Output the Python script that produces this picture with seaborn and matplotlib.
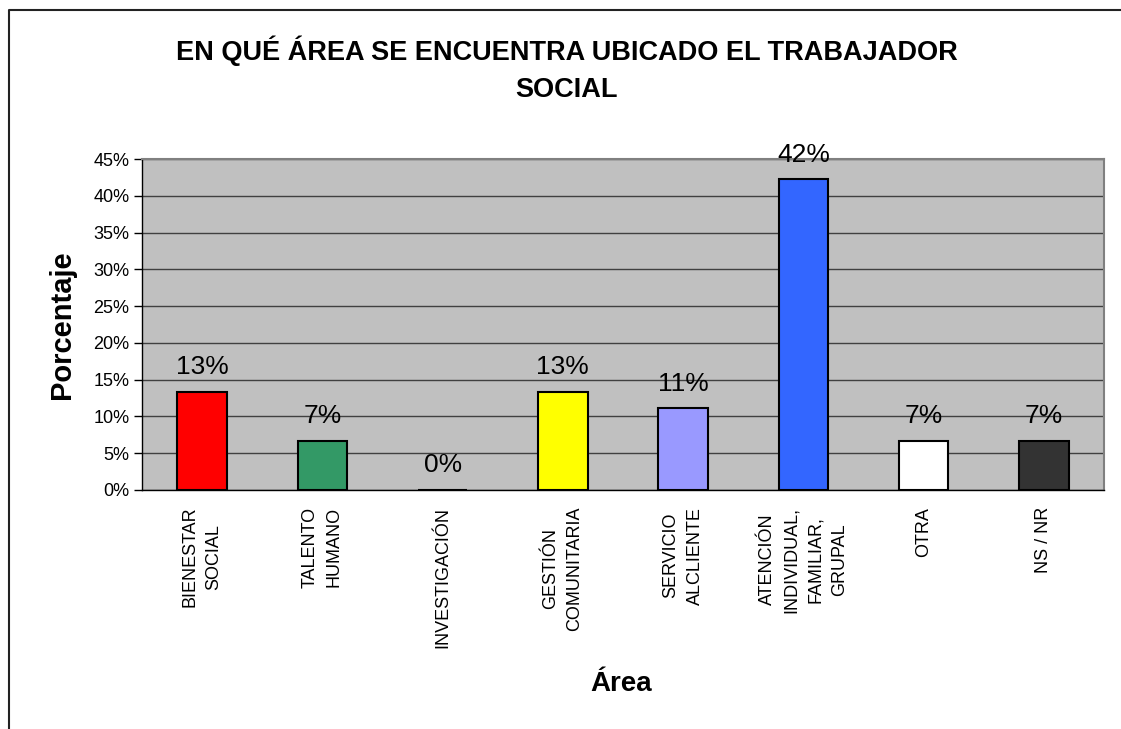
import matplotlib
matplotlib.use("Agg")
import matplotlib.pyplot as plt
import seaborn as sns
import pandas as pd
from matplotlib.lines import Line2D
from matplotlib.ticker import FixedLocator, MultipleLocator, FuncFormatter

# Data (n = 45 respuestas)
categorias = ["BIENESTAR\nSOCIAL", "TALENTO\nHUMANO", "INVESTIGACIÓN",
              "GESTIÓN\nCOMUNITARIA", "SERVICIO\nALCLIENTE",
              "ATENCIÓN\nINDIVIDUAL,\nFAMILIAR,\nGRUPAL", "OTRA", "NS / NR"]
porcentajes = [13.33, 6.67, 0.0, 13.33, 11.11, 42.22, 6.67, 6.67]
etiquetas = ["13%", "7%", "0%", "13%", "11%", "42%", "7%", "7%"]
colores = ["#FF0000", "#339966", "#C0C0C0", "#FFFF00", "#9999FF",
           "#3366FF", "#FFFFFF", "#333333"]

df = pd.DataFrame({"Area": categorias, "Porcentaje": porcentajes})

sns.set_style("white")
plt.rcParams["font.family"] = ["Liberation Sans", "DejaVu Sans"]
plt.rcParams["text.color"] = "black"
plt.rcParams["xtick.color"] = "black"
plt.rcParams["ytick.color"] = "black"

W, H = 1121, 729
fig = plt.figure(figsize=(W / 100, H / 100), dpi=100)
ax = fig.add_axes([142 / W, 1 - 490 / H, (1104 - 142) / W, (490 - 159) / H])
ax.set_facecolor("#C0C0C0")

sns.barplot(data=df, x="Area", y="Porcentaje", hue="Area", palette=colores,
            legend=False, width=0.41, edgecolor="black", linewidth=1.5,
            saturation=1, ax=ax)

# value labels
for i, (v, t) in enumerate(zip(porcentajes, etiquetas)):
    ax.annotate(t, (i, v), xytext=(0, 9), textcoords="offset points",
                ha="center", va="bottom", fontsize=19, color="black")

ax.set_xlim(-0.5, len(categorias) - 0.5)
ax.set_ylim(0, 45)
ax.yaxis.set_major_locator(MultipleLocator(5))
ax.yaxis.set_major_formatter(FuncFormatter(lambda y, _: f"{y:.0f}%"))
ax.yaxis.grid(True, color="#404040", lw=1)
ax.set_axisbelow(True)

ax.xaxis.set_minor_locator(FixedLocator([i - 0.5 for i in range(len(categorias) + 1)]))
ax.tick_params(axis="x", which="major", length=0, pad=12, labelsize=13)
ax.tick_params(axis="x", which="minor", length=6, width=1, direction="out", color="black")
ax.tick_params(axis="y", length=6, width=1, direction="out", color="black",
               labelsize=13, pad=3, left=True)
for lbl in ax.get_xticklabels():
    lbl.set_rotation(90)
    lbl.set_multialignment("center")
    lbl.set_linespacing(1.55)
    lbl.set_va("top")

ax.set_xlabel("")
ax.set_ylabel("")
for s in ["left", "bottom"]:
    ax.spines[s].set_color("black")
    ax.spines[s].set_linewidth(1)
for s in ["top", "right"]:
    ax.spines[s].set_color("#808080")
    ax.spines[s].set_linewidth(1.5)

fig.text(567 / W, 1 - 69 / H, "EN QUÉ ÁREA SE ENCUENTRA UBICADO EL TRABAJADOR\nSOCIAL",
         ha="center", va="center", fontsize=19.5, fontweight="bold", linespacing=1.55)
fig.text(62 / W, 1 - 325 / H, "Porcentaje", rotation=90, ha="center", va="center",
         fontsize=21, fontweight="bold")
fig.text(621 / W, 1 - 684 / H, "Área", ha="center", va="center",
         fontsize=20, fontweight="bold")

# outer chart border (top and left only visible in the reference)
fig.add_artist(Line2D([9 / W, 9 / W, 1], [0, 1 - 10 / H, 1 - 10 / H],
                      transform=fig.transFigure, color="#222222", lw=1.5))

fig.savefig("out.png", dpi=100)
